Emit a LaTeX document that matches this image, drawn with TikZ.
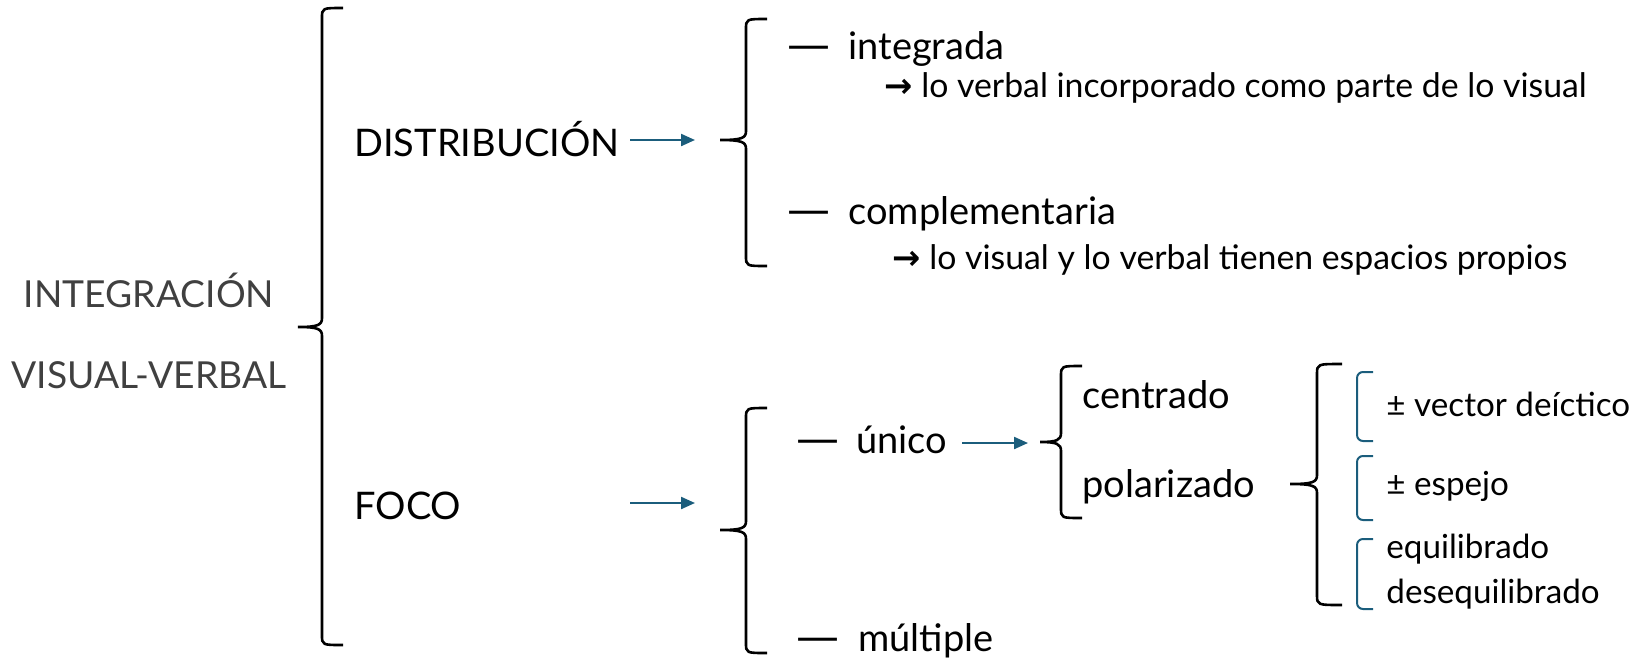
\documentclass[tikz,border=0pt]{standalone}
\usepackage{fontspec}
\setmainfont{Lato}
\newfontfamily\flechafont{DejaVu Sans}
\usetikzlibrary{arrows.meta}
\definecolor{azul}{RGB}{27,93,124}
\definecolor{gris}{RGB}{64,64,64}

% llave: x, arriba, abajo, medio, punta, extremo
\newcommand{\llave}[6]{%
  \draw[llave] (#6,#2) .. controls (#1,#2) .. (#1,#2+10) -- (#1,#4-9)
    .. controls (#1,#4-2) and (#1-4,#4) .. (#5,#4)
    .. controls (#1-4,#4) and (#1,#4+2) .. (#1,#4+9) -- (#1,#3-10)
    .. controls (#1,#3) .. (#6,#3);}

\begin{document}
\begin{tikzpicture}[x=0.5pt,y=-0.5pt,
  titulo/.style={anchor=base,inner sep=0,text=gris,font=\fontsize{18.6}{22}\selectfont},
  rama/.style={anchor=base west,inner sep=0,font=\fontsize{19}{22}\selectfont},
  guion/.style={anchor=base west,inner sep=0,font=\flechafont\fontsize{21.5}{24}\selectfont},
  nota/.style={anchor=base west,inner sep=0,font=\fontsize{16.9}{19}\selectfont},
  hoja/.style={anchor=base west,inner sep=0,font=\fontsize{16.6}{19}\selectfont},
  llave/.style={line width=1.3pt},
  corchete/.style={draw=azul,line width=1pt,rounded corners=3pt},
  flecha/.style={azul,line width=1.1pt,-{Triangle[length=7pt,width=6pt]}}]
  \useasboundingbox (0,0) rectangle (1631,659);

  \node[titulo] (integ) at (149,307) {INTEGRACIÓN};
  \node[titulo] (visver) at (149,388) {VISUAL-VERBAL};

  \llave{322}{8}{645}{327}{298}{343}

  \node[rama] (dist) at (354,156) {DISTRIBUCIÓN};
  \node[rama] (foco) at (354,519) {FOCO};

  \coordinate (d1) at (630,140);
  \coordinate (d2) at (695,140);
  \coordinate (f1) at (630,503);
  \coordinate (f2) at (695,503);
  \draw[flecha] (d1) -- (d2);
  \draw[flecha] (f1) -- (f2);

  \llave{746}{19}{266}{140}{720}{767}
  \llave{746}{408}{653}{530}{720}{767}

  \node[guion] (guion1) at (787,59) {—};
  \node[rama] (integrada) at (848,59) {integrada};
  \node[nota] (nota1) at (884,97) {{\flechafont\bfseries →} lo verbal incorporado como parte de lo visual};
  \node[guion] (guion2) at (787,224) {—};
  \node[rama] (compl) at (848,224) {complementaria};
  \node[nota] (nota2) at (892,269) {{\flechafont\bfseries →} lo visual y lo verbal tienen espacios propios};

  \node[guion] (guion3) at (796,453) {—};
  \node[rama] (unico) at (856,453) {único};
  \node[guion] (guion4) at (796,651) {—};
  \node[rama] (multiple) at (858,651) {múltiple};

  \coordinate (u1) at (962,443);
  \coordinate (u2) at (1028,443);
  \draw[flecha] (u1) -- (u2);

  \llave{1061}{366}{518}{442}{1040}{1082}
  \node[rama] (centrado) at (1082,408) {centrado};
  \node[rama] (polar) at (1082,497) {polarizado};

  \llave{1317}{364}{605}{484}{1290}{1342}

  \draw[corchete] (1373,372) -- (1357,372) -- (1357,441) -- (1373,441);
  \draw[corchete] (1373,456) -- (1357,456) -- (1357,520) -- (1373,520);
  \draw[corchete] (1373,539) -- (1357,539) -- (1357,609) -- (1373,609);

  \node[hoja] (vector) at (1386,416) {± vector deíctico};
  \node[hoja] (espejo) at (1386,495) {± espejo};
  \node[hoja] (equil) at (1386,558) {equilibrado};
  \node[hoja] (deseq) at (1386,603) {desequilibrado};
\end{tikzpicture}
\end{document}
